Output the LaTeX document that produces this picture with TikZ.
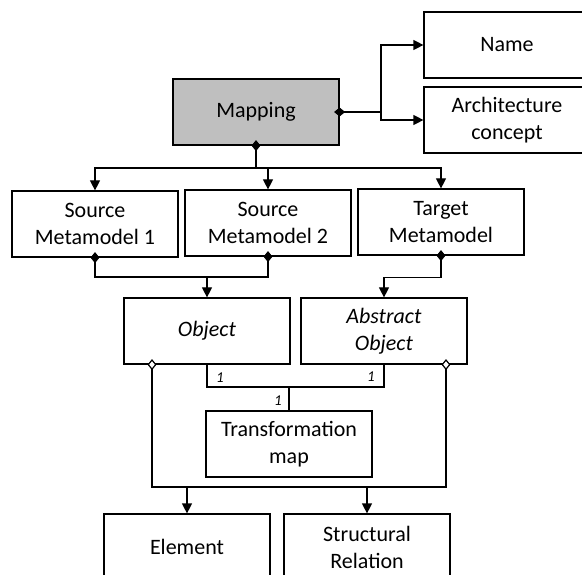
\documentclass[tikz,border=0pt]{standalone}
\usepackage{fontspec}
\setmainfont{Carlito}
\usetikzlibrary{arrows.meta,positioning}

\begin{document}
\begin{tikzpicture}[x=1pt, y=-1pt, line width=1.2pt,
  box/.style={draw, rectangle, minimum width=166pt, minimum height=66pt, inner sep=0pt, font=\fontsize{22}{27}\selectfont, align=center},
  arrow/.style={-{Triangle[length=10pt,width=10pt]}},
  has/.style={{Diamond[length=11pt,width=9pt]}-, shorten <=-5.5pt},
  part/.style={{Diamond[open,fill=white,length=11pt,width=9pt]}-, shorten <=-5.5pt},
  mult/.style={font=\fontsize{15}{15}\selectfont\itshape, inner sep=1pt}
]
\useasboundingbox (0,0) rectangle (582,575);

\node[box, fill=black!25] (map) at (256,112) {Mapping};
\node[box] (name) at (507,45) {Name};
\node[box] (arch) at (507,120) {Architecture\\concept};

\node[box] (src1) at (95,224) {Source\\Metamodel 1};
\node[box] (src2) at (268,223) {Source\\Metamodel 2};
\node[box] (tgt) at (441,222) {Target\\Metamodel};

\node[box] (obj) at (207,331) {\textit{Object}};
\node[box] (absobj) at (384,331) {\textit{Abstract}\\\textit{Object}};
\node[box] (trans) at (289,444) {Transformation\\map};

\node[box] (elem) at (187,547) {Element};
\node[box] (rel) at (367,547) {Structural\\Relation};

\coordinate (mr) at (381,112);
\coordinate (mb) at (256,168);
\coordinate (sj) at (207,277);
\coordinate (tj) at (289,387);
\coordinate (ej) at (187,487);
\coordinate (rj) at (367,487);

\draw[has] (map.east) -- (mr);
\draw[arrow] (mr) |- (name);
\draw[arrow] (mr) |- (arch);

\draw[has] (map.south) -- (mb);
\draw[arrow] (mb) -| (src1);
\draw[arrow] (mb) -| (src2);
\draw[arrow] (mb) -| (tgt);

\draw[has] (src1.south) |- (sj);
\draw[has] (src2.south) |- (sj);
\draw[arrow] (sj) -- (obj);
\draw[has] (tgt.south) -- ++(0,22) coordinate (tb);
\draw[arrow] (tb) -| (absobj);

\draw (obj.south) |- (tj) -| (absobj.south);
\draw (tj) -- (trans);
\node[mult] (m1) at (220,378) {1};
\node[mult] (m2) at (371,377) {1};
\node[mult] (m3) at (278,401) {1};

\draw[part] ([xshift=-55pt]obj.south) |- (ej);
\draw[part] ([xshift=62pt]absobj.south) |- (rj);
\draw (ej) -- (rj);
\draw[arrow] (ej) -- (elem);
\draw[arrow] (rj) -- (rel);
\end{tikzpicture}
\end{document}
